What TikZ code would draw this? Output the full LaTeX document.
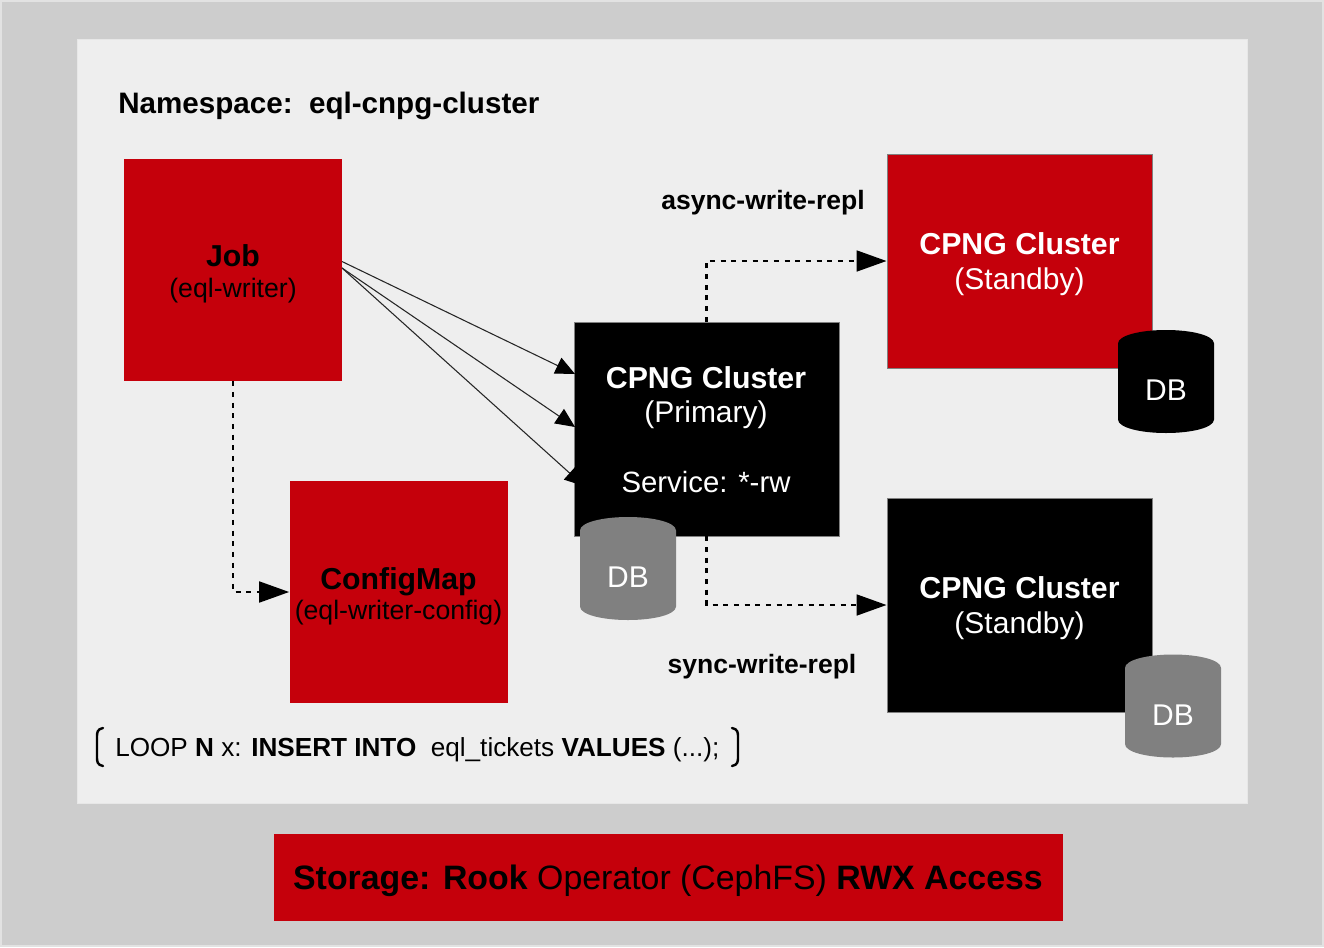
\documentclass[tikz,border=0pt]{standalone}
\usepackage{fontspec}
\setmainfont{Liberation Sans}
\usetikzlibrary{arrows.meta}
\definecolor{rhred}{HTML}{C5000B}
\definecolor{outerbg}{HTML}{CDCDCD}
\definecolor{innerbg}{HTML}{EEEEEE}
\definecolor{dbgrey}{HTML}{808080}
\definecolor{edgegrey}{HTML}{E2E2E2}
\newcommand{\dbcan}[4]{%
  \fill[#3] (#1-48,#2-38) .. controls (#1-48,#2-46) and (#1-26,#2-51.5) .. (#1,#2-51.5)
     .. controls (#1+26,#2-51.5) and (#1+48,#2-46) .. (#1+48,#2-38)
     -- (#1+48,#2+38) .. controls (#1+48,#2+46) and (#1+26,#2+51.5) .. (#1,#2+51.5)
     .. controls (#1-26,#2+51.5) and (#1-48,#2+46) .. (#1-48,#2+38) -- cycle;
  \node[dbtext] (#4) at (#1,#2+9) {DB};}
\tikzset{
  x=0.75pt,y=-0.75pt,
  redbox/.style={fill=rhred,draw=none,inner sep=0pt,minimum width=163.5pt,minimum height=166.5pt},
  blackbox/.style={fill=black,draw=black!50,line width=0.6pt,inner sep=0pt,minimum width=198.75pt,minimum height=160.5pt},
  dbtext/.style={inner sep=0pt,text=white,font=\fontsize{22.5}{26}\selectfont},
  reqline/.style={draw=black!85,line width=0.8pt,-{Triangle[length=14.5pt,width=13pt,color=black,fill=black]}},
  repline/.style={draw=black,line width=2.1pt,dash pattern=on 3.8pt off 4.2pt,-{Triangle[length=22.5pt,width=15.5pt,fill=black]}},
  boxtitle/.style={inner sep=0pt,font=\fontsize{22.7}{26}\selectfont\bfseries},
  boxsub/.style={inner sep=0pt,font=\fontsize{22.5}{26}\selectfont},
  boxsmall/.style={inner sep=0pt,font=\fontsize{20}{24}\selectfont},
  labeltext/.style={font=\fontsize{19.9}{23}\selectfont\bfseries,inner sep=0pt},
}
\begin{document}
\begin{tikzpicture}
\useasboundingbox (0,0) rectangle (1324,947);
\node[fill=outerbg,draw=edgegrey,line width=1.5pt,minimum width=991.5pt,minimum height=708.75pt,inner sep=0pt] (outer) at (662,473.5) {};
\node[fill=innerbg,draw=edgegrey!60!innerbg,line width=0.6pt,minimum width=877.5pt,minimum height=573pt,inner sep=0pt] (inner) at (662,421) {};
\node[font=\fontsize{22.2}{26}\selectfont\bfseries,inner sep=0pt,anchor=west] (ns) at (118,106) {Namespace:\ \ eql-cnpg-cluster};

\node[redbox] (job) at (233,270) {};
\node[boxtitle] (jobt) at (233,256) {Job};
\node[boxsmall] (jobs) at (233,291) {(eql-writer)};

\node[redbox] (cfg) at (398.5,592) {};
\node[boxtitle] (cfgt) at (398.5,581.5) {ConfigMap};
\node[boxsmall] (cfgs) at (398.5,613) {(eql-writer-config)};

\node[blackbox] (pri) at (706.5,429) {};
\node[boxtitle,text=white] (pri1) at (706,377.5) {CPNG Cluster};
\node[boxsub,text=white] (pri2) at (706,415) {(Primary)};
\node[boxsub,text=white,font=\fontsize{22}{26}\selectfont] (pri3) at (706,482) {Service: *-rw};

\node[redbox,draw=black!50,line width=0.6pt,minimum width=198.75pt,minimum height=160.5pt] (sb1) at (1019.5,261) {};
\node[boxtitle,text=white] (sb1t) at (1019.5,244) {CPNG Cluster};
\node[boxsub,text=white] (sb1s) at (1019.5,282) {(Standby)};

\node[blackbox] (sb2) at (1019.5,605) {};
\node[boxtitle,text=white] (sb2t) at (1019.5,588) {CPNG Cluster};
\node[boxsub,text=white] (sb2s) at (1019.5,626) {(Standby)};

\coordinate (j1) at (342,261.5);
\coordinate (j2) at (342,268);
\coordinate (p1) at (575,374);
\coordinate (p2) at (575,427);
\coordinate (p3) at (584,486);
\draw[reqline] (j1) -- (p1);
\draw[reqline] (j2) -- (p2);
\draw[reqline] (j2) -- (p3);

\draw[repline] (job.south) |- (cfg.west);
\draw[repline] (pri.north) |- (sb1.west);
\draw[repline] (pri.south) |- (sb2.west);

\dbcan{1166}{381.5}{black}{db1}
\dbcan{628}{568.5}{dbgrey}{db0}
\dbcan{1173}{706}{dbgrey}{db2}

\node[labeltext] (async) at (763,203) {async-write-repl};
\node[labeltext] (sync) at (762,666.5) {sync-write-repl};

\node[font=\fontsize{19.6}{23}\selectfont,inner sep=0pt,anchor=west] (loop) at (115,749.5) {LOOP \textbf{N} x: \textbf{INSERT INTO}\ \ eql\_tickets \textbf{VALUES} (...);};
\coordinate (bl) at (100,747);
\coordinate (br) at (735,747);
\draw[black,line width=1.8pt,line cap=round] ([shift={(3,-19)}]bl) .. controls ([shift={(-3,-18)}]bl) and ([shift={(-3,-14)}]bl) .. ([shift={(-3,-10)}]bl) -- ([shift={(-3,10)}]bl) .. controls ([shift={(-3,14)}]bl) and ([shift={(-3,18)}]bl) .. ([shift={(3,19)}]bl);
\draw[black,line width=1.8pt,line cap=round] ([shift={(-3,-19)}]br) .. controls ([shift={(3,-18)}]br) and ([shift={(3,-14)}]br) .. ([shift={(3,-10)}]br) -- ([shift={(3,10)}]br) .. controls ([shift={(3,14)}]br) and ([shift={(3,18)}]br) .. ([shift={(-3,19)}]br);

\node[fill=rhred,minimum width=591.75pt,minimum height=65.25pt,inner sep=0pt] (st) at (668.5,877.5) {};
\node[inner sep=0pt,font=\fontsize{25.4}{30}\selectfont] (stt) at (668,880.5) {\textbf{Storage: Rook} Operator (CephFS) \textbf{RWX Access}};
\end{tikzpicture}
\end{document}
